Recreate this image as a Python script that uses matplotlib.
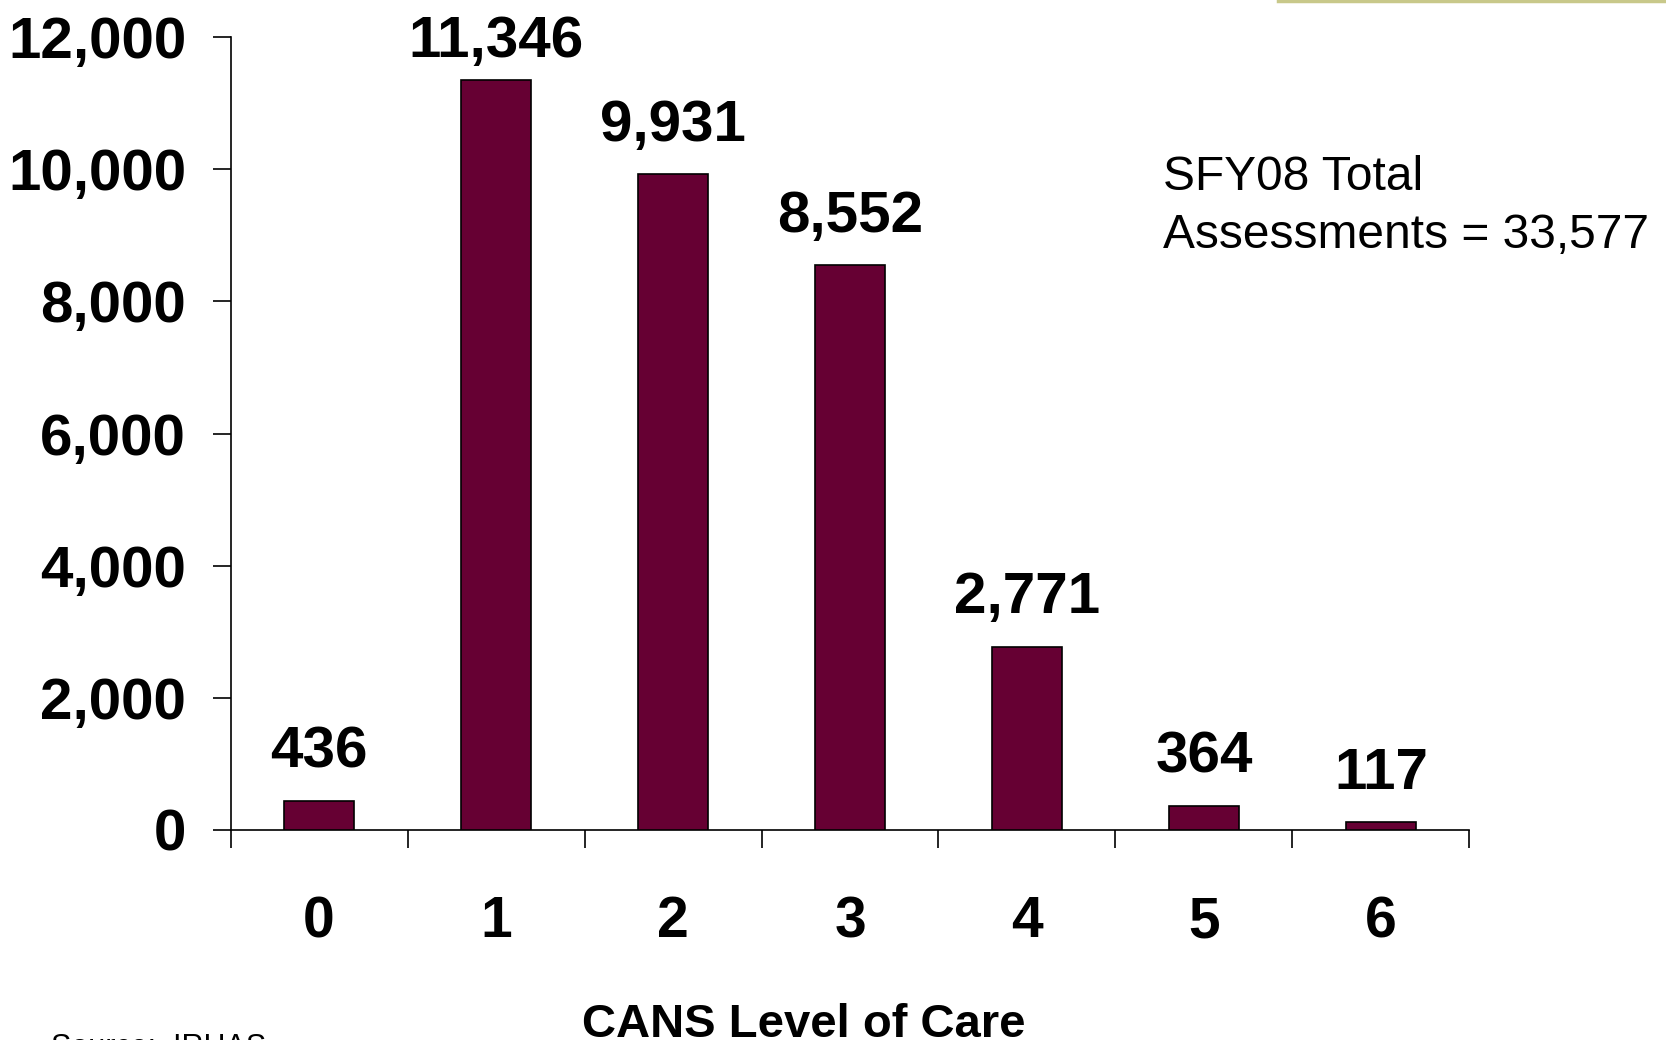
import numpy as np
import matplotlib
matplotlib.use("Agg")
import matplotlib.pyplot as plt
from matplotlib.lines import Line2D

plt.rcParams['font.family'] = ['Liberation Sans', 'DejaVu Sans']

levels = ['0', '1', '2', '3', '4', '5', '6']
counts = [436, 11346, 9931, 8552, 2771, 364, 117]
yticks = [0, 2000, 4000, 6000, 8000, 10000, 12000]

fig = plt.figure(figsize=(16.66, 10.4), dpi=100)
ax = fig.add_axes([0.1384, 0.2021, 0.882 - 0.1384, 0.9642 - 0.2021])

x = np.arange(len(levels))
ax.bar(x, counts, width=0.4, color='#660033', edgecolor='black', linewidth=1.2, zorder=3)

for xi, v in zip(x, counts):
    off = 17 if v > 11000 else 24
    ax.annotate(f'{v:,}', (xi, v), xytext=(0, off), textcoords='offset points',
                ha='center', va='baseline', fontsize=42, fontweight='bold',
                annotation_clip=False)

ax.set_xlim(-0.5, len(levels) - 0.5)
ax.set_ylim(0, 12000)
ax.set_yticks(yticks)
ax.set_yticklabels([f'{t:,}' for t in yticks], fontsize=42, fontweight='bold')
ax.set_xticks(x)
ax.set_xticklabels(levels, fontsize=41, fontweight='bold')
ax.set_xticks(np.arange(-0.5, len(levels)), minor=True)
ax.tick_params(axis='x', which='major', length=0, pad=47)
ax.tick_params(axis='x', which='minor', length=13, width=1.2, direction='out')
ax.tick_params(axis='y', length=13, width=1.2, pad=19, direction='out')

for s in ['top', 'right']:
    ax.spines[s].set_visible(False)
for s in ['left', 'bottom']:
    ax.spines[s].set_linewidth(1.2)

fig.text(804 / 1666, 3 / 1040, 'CANS Level of Care', ha='center', va='baseline',
         fontsize=34, fontweight='bold')
fig.text(51 / 1666, -16 / 1040, 'Source:  IRHAS', ha='left', va='baseline', fontsize=22)
fig.text(1163 / 1666, 1 - 248 / 1040, 'SFY08 Total\nAssessments = 33,577',
         ha='left', va='baseline', fontsize=34.5, linespacing=1.38)

fig.add_artist(Line2D([1278 / 1666, 1], [1 - 1 / 1040, 1 - 1 / 1040],
                      transform=fig.transFigure, color='#c8c88a', linewidth=2.5))

fig.savefig('out.png', dpi=100)
